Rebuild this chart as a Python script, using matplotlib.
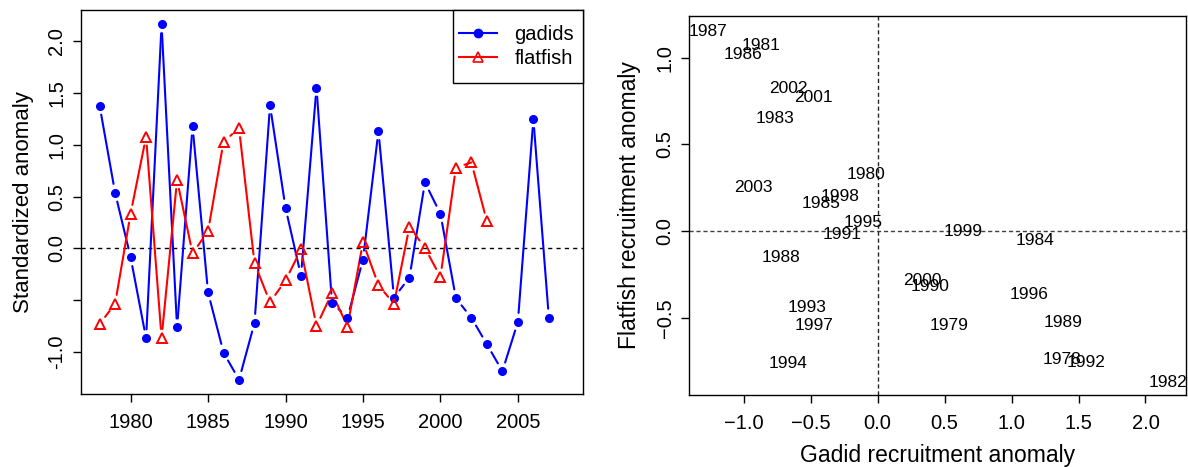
import matplotlib
matplotlib.use('Agg')
import matplotlib.pyplot as plt
from matplotlib.lines import Line2D
from matplotlib.patches import Rectangle
import numpy as np

plt.rcParams['font.family'] = ['Liberation Sans', 'DejaVu Sans']

#%% Data

years = list(range(1978, 2008))
gadids = [1.378, 0.537, -0.085, -0.869, 2.165, -0.764, 1.178, -0.425, -1.007, -1.269,
          -0.719, 1.383, 0.392, -0.265, 1.553, -0.524, -0.670, -0.108, 1.133, -0.475,
          -0.282, 0.637, 0.334, -0.482, -0.670, -0.927, -1.186, -0.710, 1.249, -0.670]
flatYears = list(range(1978, 2004))
flatfish = [-0.731, -0.535, 0.335, 1.080, -0.865, 0.660, -0.047, 0.165, 1.030, 1.160,
            -0.145, -0.520, -0.310, -0.010, -0.750, -0.430, -0.755, 0.060, -0.355, -0.535,
            0.210, 0.005, -0.275, 0.780, 0.830, 0.260]

leftYTicks = [-1.0, -0.5, 0.0, 0.5, 1.0, 1.5, 2.0]
leftYLabels = ['-1.0', '', '0.0', '0.5', '1.0', '1.5', '2.0']
leftXTicks = [1980, 1985, 1990, 1995, 2000, 2005]
rightXTicks = [-1.0, -0.5, 0.0, 0.5, 1.0, 1.5, 2.0]
rightYTicks = [-0.5, 0.0, 0.5, 1.0]


def rangeWithPad(values, frac=0.04):
    lo, hi = min(values), max(values)
    pad = (hi - lo) * frac
    return lo - pad, hi + pad


def gappedLine(ax, x, y, color, gap=6.5):
    # R type="b": segments stop short of the points
    for i in range(len(x) - 1):
        ax.annotate('', xy=(x[i + 1], y[i + 1]), xytext=(x[i], y[i]),
                    arrowprops=dict(arrowstyle='-', color=color, lw=1.5,
                                    shrinkA=gap, shrinkB=gap))


def styleAxes(ax):
    for sp in ax.spines.values():
        sp.set_linewidth(1.0)
    ax.tick_params(direction='out', length=5.5, width=1.0, labelsize=14.5)
    ax.tick_params(axis='x', pad=8)
    ax.tick_params(axis='y', pad=5, labelrotation=90)
    for lab in ax.get_yticklabels():
        lab.set_va('center')


#%% Visualization Routines

def plotTimeSeries(ax):
    ax.axhline(0, color='black', lw=1.0, ls=(0, (3, 3)), zorder=1)
    gappedLine(ax, years, gadids, 'blue')
    gappedLine(ax, flatYears, flatfish, 'red')
    ax.plot(years, gadids, 'o', color='blue', ms=5.5, zorder=3)
    ax.plot(flatYears, flatfish, '^', mfc='none', mec='red', mew=1.4, ms=7, zorder=3)
    ax.set_xlim(rangeWithPad([1978, 2008]))
    ax.set_ylim(rangeWithPad(gadids))
    ax.set_xticks(leftXTicks)
    ax.set_yticks(leftYTicks)
    ax.set_yticklabels(leftYLabels)
    ax.set_ylabel('Standardized anomaly', fontsize=16)
    ax.yaxis.set_label_coords(-0.094, 0.5)
    # legend box drawn by hand (R style padding)
    ax.add_patch(Rectangle((0.741, 0.81), 0.259, 0.19, transform=ax.transAxes,
                           fill=True, facecolor='white', edgecolor='black', lw=1.0,
                           zorder=4, clip_on=False))
    handles = [Line2D([], [], color='blue', lw=1.5, marker='o', ms=6),
               Line2D([], [], color='red', lw=1.5, marker='^', ms=7.5, mfc='none', mew=1.2)]
    leg = ax.legend(handles, ['gadids', 'flatfish'], loc='center left',
                    bbox_to_anchor=(0.753, 0.905), fontsize=14.5,
                    frameon=False, borderaxespad=0, borderpad=0,
                    handlelength=1.9, handletextpad=0.85, labelspacing=0.27)
    leg.set_zorder(5)
    styleAxes(ax)


def plotScatterYears(ax):
    ax.axhline(0, color='0.25', lw=1.0, ls=(0, (3, 2)), zorder=1)
    ax.axvline(0, color='0.15', lw=1.0, ls=(0, (3, 2)), zorder=1)
    n = len(flatYears)
    for yr, gx, fy in zip(flatYears, gadids[:n], flatfish):
        ax.text(gx, fy, str(yr), ha='center', va='center_baseline', fontsize=12.5,
                clip_on=False)
    ax.set_xlim(rangeWithPad(gadids[:n]))
    ax.set_ylim(rangeWithPad(flatfish))
    ax.set_xticks(rightXTicks)
    ax.set_yticks(rightYTicks)
    ax.set_xlabel('Gadid recruitment anomaly', fontsize=16.5)
    ax.set_ylabel('Flatfish recruitment anomaly', fontsize=16.5)
    ax.xaxis.set_label_coords(0.5, -0.13)
    ax.yaxis.set_label_coords(-0.097, 0.5)
    styleAxes(ax)


#%% Main routine

def main():
    fig = plt.figure(figsize=(11.88, 4.67), dpi=100)
    axLeft = fig.add_axes([0.0682, 0.1563, 0.4225, 0.8223])
    axRight = fig.add_axes([0.5802, 0.1542, 0.4181, 0.8115])
    plotTimeSeries(axLeft)
    plotScatterYears(axRight)
    fig.savefig('out.png', dpi=100)


if __name__ == '__main__':
    main()
